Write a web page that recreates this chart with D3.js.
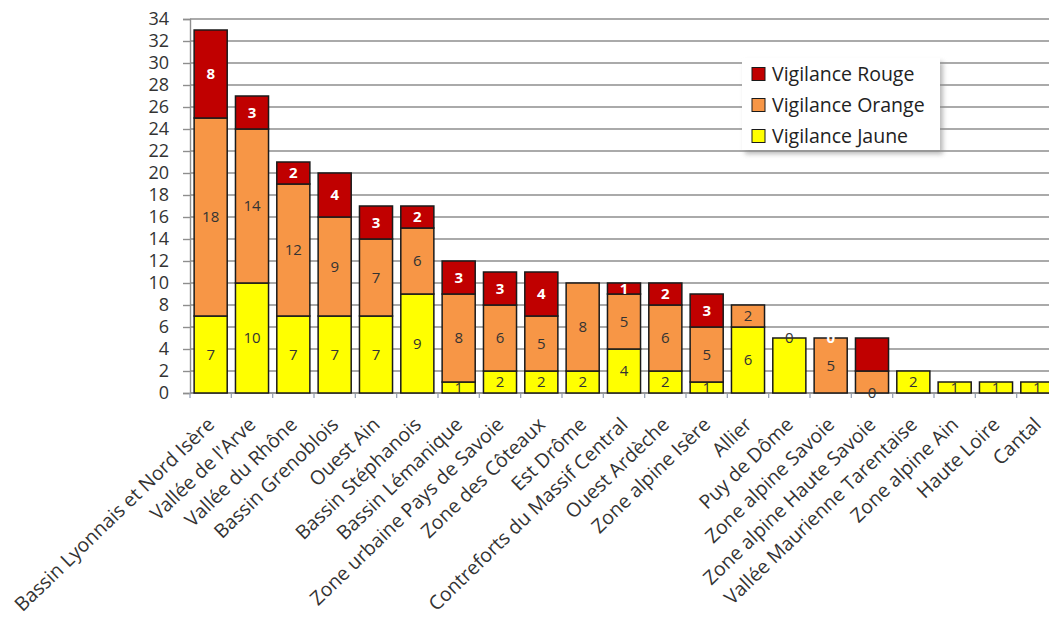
<!DOCTYPE html>
<html>
<head>
  <script src="https://d3js.org/d3.v7.min.js"></script>
  <style>
    body { margin: 0; background: #fff; }
    text { font-family: "Open Sans", sans-serif; }
    .grid line { stroke: #8e8e8e; stroke-width: 1.4px; }
    .bar { stroke: #1a1a1a; stroke-width: 1.5px; }
  </style>
</head>
<body>
  <svg width="1049" height="622"></svg>
  <script>
    // zones, sorted by total count
    var zones = ["Bassin Lyonnais et Nord Isère", "Vallée de l'Arve", "Vallée du Rhône", "Bassin Grenoblois",
      "Ouest Ain", "Bassin Stéphanois", "Bassin Lémanique", "Zone urbaine Pays de Savoie", "Zone des Côteaux",
      "Est Drôme", "Contreforts du Massif Central", "Ouest Ardèche", "Zone alpine Isère", "Allier", "Puy de Dôme",
      "Zone alpine Savoie", "Zone alpine Haute Savoie", "Vallée Maurienne Tarentaise", "Zone alpine Ain",
      "Haute Loire", "Cantal"];

    var jaune  = [7, 10, 7, 7, 7, 9, 1, 2, 2, 2, 4, 2, 1, 6, 5, 0, 0, 2, 1, 1, 1];
    var orange = [18, 14, 12, 9, 7, 6, 8, 6, 5, 8, 5, 6, 5, 2, 0, 5, 2, 0, 0, 0, 0];
    var rouge  = [8, 3, 2, 4, 3, 2, 3, 3, 4, 0, 1, 2, 3, 0, 0, 0, 3, 0, 0, 0, 0];

    // data labels as shown in the chart (null = no label)
    var lblJaune  = [7, 10, 7, 7, 7, 9, 1, 2, 2, 2, 4, 2, 1, 6, null, null, 0, 2, 1, 1, 1];
    var lblOrange = [18, 14, 12, 9, 7, 6, 8, 6, 5, 8, 5, 6, 5, 2, 0, 5, null, null, null, null, null];
    var lblRouge  = [8, 3, 2, 4, 3, 2, 3, 3, 4, null, 1, 2, 3, null, null, 0, null, null, null, null, null];

    var yTicks = d3.range(0, 35, 2);

    var series = ["Vigilance Jaune", "Vigilance Orange", "Vigilance Rouge"];
    var colors = ["#ffff00", "#f79646", "#c00000"];
    var textColors = ["#333", "#333", "#ffffff"];

    var svg = d3.select("svg");
    var plotLeft = 190, plotRight = 1058, plotTop = 19, plotBottom = 393;

    var x = d3.scaleBand().domain(zones).range([plotLeft, plotRight]).paddingInner(0.2).paddingOuter(0.1);
    var y = d3.scaleLinear().domain([0, 34]).range([plotBottom, plotTop]);

    var rows = zones.map(function(z, i) {
      return { zone: z, j: jaune[i], o: orange[i], r: rouge[i], lj: lblJaune[i], lo: lblOrange[i], lr: lblRouge[i] };
    });
    var stacked = d3.stack().keys(["j", "o", "r"])(rows);
    var lblKeys = ["lj", "lo", "lr"];

    // gridlines
    svg.append("g").attr("class", "grid")
      .selectAll("line").data(yTicks).join("line")
      .attr("x1", plotLeft).attr("x2", 1049)
      .attr("y1", function(d) { return y(d); })
      .attr("y2", function(d) { return y(d); });

    // y axis
    var yAxis = d3.axisLeft(y).tickValues(yTicks).tickSize(7).tickPadding(14);
    var gy = svg.append("g").attr("transform", "translate(" + plotLeft + ",0)").call(yAxis);
    gy.select(".domain").attr("stroke", "#8e8e8e").attr("stroke-width", 1.4);
    gy.selectAll(".tick line").attr("stroke", "#8e8e8e").attr("stroke-width", 1.4);
    gy.selectAll("text").attr("font-size", "18px").attr("fill", "#333").style("font-family", "Open Sans");

    // x axis (ticks at category boundaries)
    var bounds = d3.range(zones.length + 1).map(function(k) { return plotLeft + k * x.step(); });
    svg.append("g").selectAll("line").data(bounds).join("line")
      .attr("x1", function(d) { return d; }).attr("x2", function(d) { return d; })
      .attr("y1", plotBottom).attr("y2", plotBottom + 5)
      .attr("stroke", "#9aa4b8").attr("stroke-width", 1.3);
    svg.append("line").attr("x1", plotLeft).attr("x2", 1049).attr("y1", plotBottom).attr("y2", plotBottom)
      .attr("stroke", "#8e8e8e").attr("stroke-width", 1.4);

    // bars
    stacked.forEach(function(s, si) {
      svg.append("g").selectAll("rect").data(s.filter(function(d) { return d[1] > d[0]; })).join("rect")
        .attr("class", "bar")
        .attr("fill", colors[si])
        .attr("x", function(d) { return x(d.data.zone); })
        .attr("width", x.bandwidth())
        .attr("y", function(d) { return y(d[1]); })
        .attr("height", function(d) { return y(d[0]) - y(d[1]); });
    });

    // data labels
    stacked.forEach(function(s, si) {
      svg.append("g").selectAll("text").data(s.filter(function(d) { return d.data[lblKeys[si]] !== null; })).join("text")
        .attr("x", function(d) { return x(d.data.zone) + x.bandwidth() / 2; })
        .attr("y", function(d) { return y((d[0] + d[1]) / 2); })
        .attr("dy", "0.36em")
        .attr("text-anchor", "middle")
        .attr("font-size", "15px")
        .attr("font-weight", si === 2 ? "bold" : "normal")
        .attr("fill", textColors[si])
        .text(function(d) { return d.data[lblKeys[si]]; });
    });

    // category labels
    svg.append("g").selectAll("text").data(zones).join("text")
      .attr("transform", function(d) { return "translate(" + (x(d) + x.bandwidth() / 2 + 5) + ",426) rotate(-44)"; })
      .attr("text-anchor", "end")
      .attr("font-size", "19.5px")
      .attr("fill", "#333")
      .text(function(d) { return d; });

    // legend
    var defs = svg.append("defs");
    var f = defs.append("filter").attr("id", "shadow").attr("x", "-10%").attr("y", "-10%").attr("width", "130%").attr("height", "140%");
    f.append("feGaussianBlur").attr("stdDeviation", 2.5);
    var lg = svg.append("g").attr("transform", "translate(742,58)");
    lg.append("rect").attr("x", 3).attr("y", 4).attr("width", 198).attr("height", 92)
      .attr("fill", "#888").attr("opacity", 0.6).attr("filter", "url(#shadow)");
    lg.append("rect").attr("width", 198).attr("height", 92).attr("fill", "#fff");
    var legOrder = [2, 1, 0];
    legOrder.forEach(function(si, k) {
      var row = lg.append("g").attr("transform", "translate(10," + (16 + k * 31) + ")");
      row.append("rect").attr("x", 0).attr("y", -6.5).attr("width", 13).attr("height", 13)
        .attr("fill", colors[si]).attr("stroke", "#1a1a1a").attr("stroke-width", 1);
      row.append("text").attr("x", 20).attr("dy", "0.36em").attr("font-size", "19.5px").attr("fill", "#222")
        .text(series[si]);
    });
  </script>
</body>
</html>
